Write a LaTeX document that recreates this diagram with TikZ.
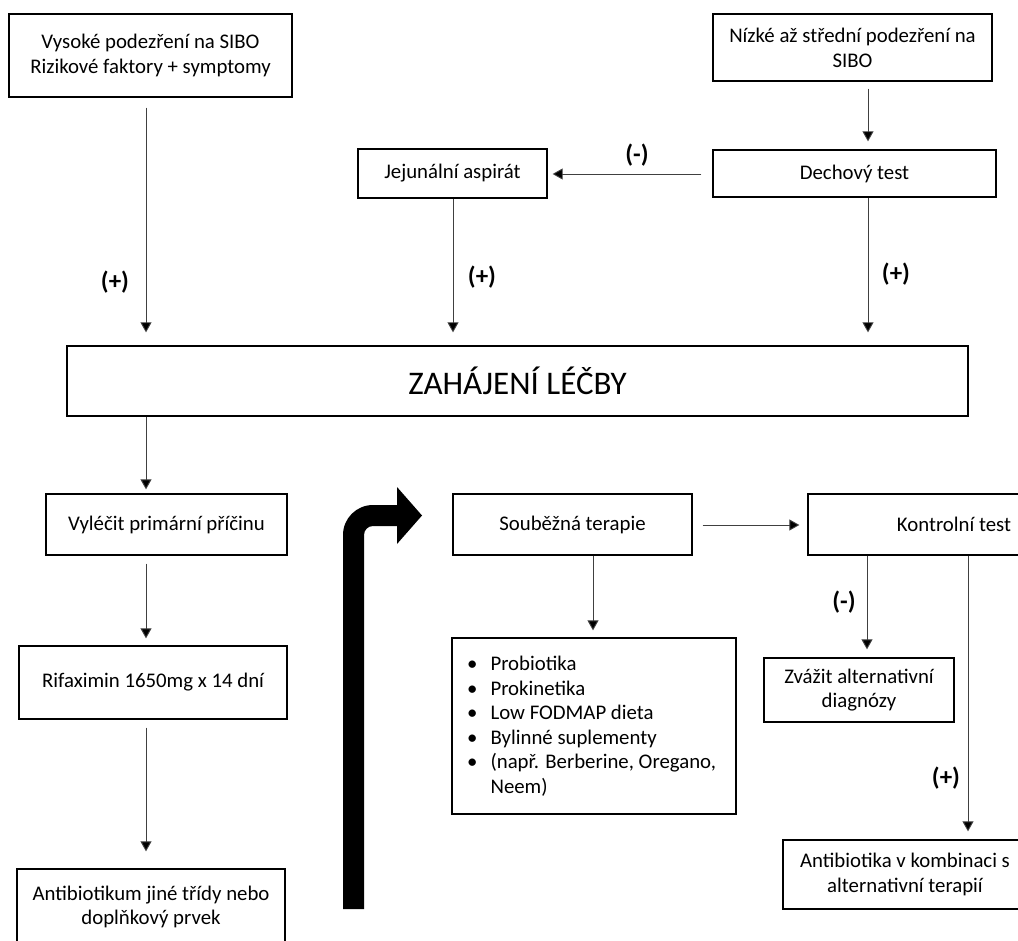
\documentclass[tikz,border=0pt]{standalone}
\usepackage{fontspec}
\setmainfont{Carlito}
\usetikzlibrary{arrows.meta,calc}
\begin{document}
\begin{tikzpicture}[x=1pt,y=-1pt,
  box/.style={draw=black,line width=1.3pt,inner sep=0pt,align=center,
    font=\fontsize{20.8}{24.8}\selectfont},
  arr/.style={draw=black!75,line width=0.9pt,-{Triangle[width=11pt,length=10pt,fill=black]}},
  lbl/.style={font=\fontsize{25}{30}\selectfont\bfseries,inner sep=0pt}]
\useasboundingbox (0,0) rectangle (1018,941);
\clip (0,0) rectangle (1018,941);
\fill[white] (0,0) rectangle (1018,941);

% column / row helpers
\coordinate (c1) at (146,0);
\coordinate (c2) at (453,0);
\coordinate (c3) at (868,0);
\coordinate (c4) at (593,0);
\coordinate (c5) at (867,0);
\coordinate (c6) at (968,0);
\coordinate (r1) at (0,174);
\coordinate (r2) at (0,525);

% boxes
\node[box,minimum width=283pt,minimum height=83pt] (vys) at (150.5,55.5)
  {Vysoké podezření na SIBO\\Rizikové faktory + symptomy};
\node[box,minimum width=279pt,minimum height=67pt] (niz) at (852.5,47.5)
  {Nízké až střední podezření na\\SIBO};
\node[box,minimum width=283pt,minimum height=47pt] (dech) at (854.5,173.5) {Dechový test};
\node[box,minimum width=189pt,minimum height=49pt] (jej) at (452.5,173.5) {Jejunální aspirát};
\node[box,minimum width=901pt,minimum height=70pt,font=\fontsize{33}{39}\selectfont] (zah) at (517.5,381) {ZAHÁJENÍ LÉČBY};
\node[box,minimum width=241pt,minimum height=61pt] (vyl) at (166.5,524.5) {Vyléčit primární příčinu};
\node[box,minimum width=268pt,minimum height=73pt] (rif) at (153,682.5) {Rifaximin 1650mg x 14 dní};
\node[box,minimum width=268pt,minimum height=76pt] (atb) at (151,907) {Antibiotikum jiné třídy nebo\\doplňkový prvek};
\node[box,minimum width=239pt,minimum height=61pt] (soub) at (572.5,524.5) {Souběžná terapie};
\node[box,minimum width=292pt,minimum height=61pt] (kont) at (954,524.5) {Kontrolní test};
\node[box,minimum width=284pt,minimum height=176pt] (prob) at (594,726) {};
\node[anchor=north west,inner sep=0pt,font=\fontsize{20.8}{24.6}\selectfont,align=left] (probt) at (467,653)
  {\begin{tabular}{@{}l@{\hspace{13pt}}l@{}}
   \textbullet & Probiotika\\
   \textbullet & Prokinetika\\
   \textbullet & Low FODMAP dieta\\
   \textbullet & Bylinné suplementy\\
   \textbullet & (např. Berberine, Oregano,\\
               & Neem)
   \end{tabular}};
\node[box,minimum width=190pt,minimum height=64pt] (zvaz) at (859,690) {Zvážit alternativní\\diagnózy};
\node[box,minimum width=244pt,minimum height=69pt] (atb2) at (905,874.5) {Antibiotika v kombinaci s\\alternativní terapií};

% connectors
\draw[arr,shorten <=10pt,shorten >=13pt] (c1 |- vys.south) -- (c1 |- zah.north);
\draw[arr,shorten <=7pt,shorten >=8pt] (c3 |- niz.south) -- (c3 |- dech.north);
\draw[arr,shorten <=11pt,shorten >=5pt] (dech.west |- r1) -- (jej.east |- r1);
\draw[arr,shorten >=13pt] (c2 |- jej.south) -- (c2 |- zah.north);
\draw[arr,shorten >=13pt] (c3 |- dech.south) -- (c3 |- zah.north);
\draw[arr,shorten >=4pt] (c1 |- zah.south) -- (c1 |- vyl.north);
\draw[arr,shorten <=8pt,shorten >=7pt] (c1 |- vyl.south) -- (c1 |- rif.north);
\draw[arr,shorten <=8pt,shorten >=17pt] (c1 |- rif.south) -- (c1 |- atb.north);
\draw[arr,shorten >=7pt] (c4 |- soub.south) -- (c4 |- prob.north);
\draw[arr,shorten <=10pt,shorten >=8pt] (soub.east |- r2) -- (kont.west |- r2);
\draw[arr,shorten >=8pt] (c5 |- kont.south) -- (c5 |- zvaz.north);
\draw[arr,shorten >=8pt] (c6 |- kont.south) -- (c6 |- atb2.north);

% labels
\node[lbl] (l1) at (637,155) {(-)};
\node[lbl] (l2) at (482,277) {(+)};
\node[lbl] (l3) at (115,282) {(+)};
\node[lbl] (l4) at (896,274) {(+)};
\node[lbl] (l5) at (844,602) {(-)};
\node[lbl] (l6) at (946,778) {(+)};

% thick bent arrow
\fill[black] (343,909) -- (343,535) .. controls (343,518.4) and (356.4,505) .. (373,505)
  -- (397,505) -- (397,487) -- (422,515.5) -- (397,544) -- (397,526) -- (373,526)
  .. controls (368,526) and (364,530) .. (364,535) -- (364,909) -- cycle;
\end{tikzpicture}
\end{document}
